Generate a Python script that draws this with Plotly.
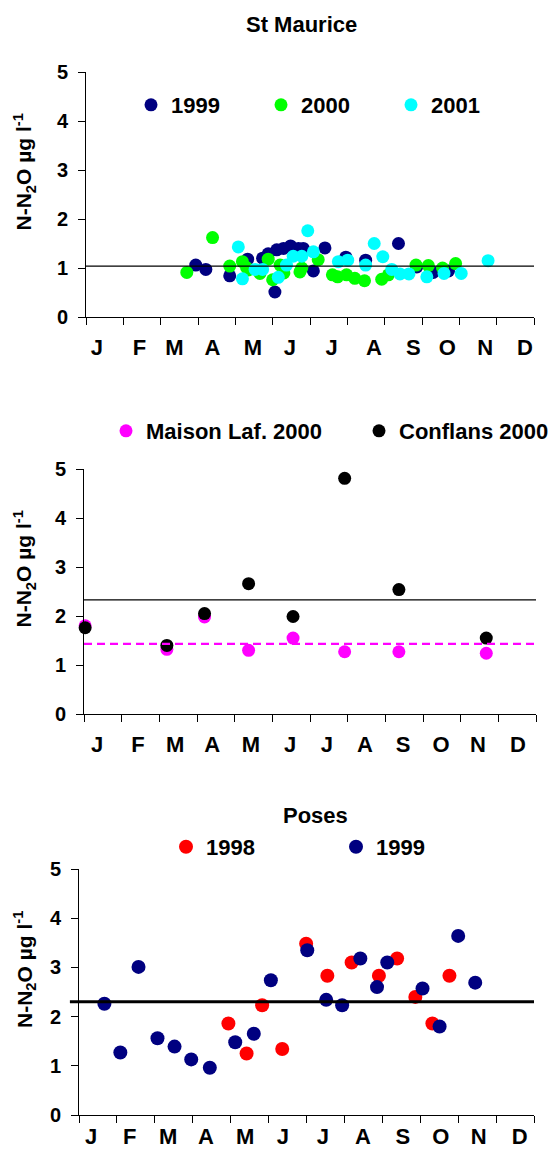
import plotly.graph_objects as go

W, H = 553, 1149
FONT = "Liberation Sans, Arial, sans-serif"

months = ["J", "F", "M", "A", "M", "J", "J", "A", "S", "O", "N", "D"]

# ---------------- St Maurice ----------------
sm1999_x = [2.94, 3.21, 3.85, 4.33, 4.73, 4.88, 5.06, 5.11, 5.29, 5.48, 5.69, 5.82,
            6.09, 6.40, 6.96, 7.49, 8.37, 8.86, 9.30, 9.53, 9.71]
sm1999_y = [1.06, 0.97, 0.84, 1.18, 1.20, 1.29, 0.51, 1.37, 1.40, 1.45, 1.40, 1.40,
            0.94, 1.41, 1.22, 1.16, 1.50, 1.02, 0.91, 0.96, 0.94]
sm2000_x = [2.70, 3.39, 3.85, 4.19, 4.30, 4.35, 4.66, 4.88, 5.00, 5.20, 5.30, 5.73,
            5.78, 6.22, 6.60, 6.74, 6.98, 7.20, 7.46, 7.92, 8.10, 8.84, 9.17, 9.55, 9.90]
sm2000_y = [0.91, 1.62, 1.04, 1.13, 1.01, 0.96, 0.89, 1.18, 0.76, 1.06, 0.90, 0.92,
            1.00, 1.17, 0.86, 0.82, 0.86, 0.79, 0.74, 0.77, 0.86, 1.06, 1.05, 1.00, 1.09]
sm2001_x = [4.08, 4.19, 4.53, 4.73, 5.15, 5.37, 5.55, 5.78, 5.94, 6.09, 6.76, 7.01,
            7.49, 7.72, 7.95, 8.19, 8.41, 8.65, 9.13, 9.59, 10.05, 10.77]
sm2001_y = [1.43, 0.78, 0.97, 0.97, 0.81, 1.06, 1.24, 1.24, 1.76, 1.33, 1.13, 1.16,
            1.06, 1.50, 1.23, 0.97, 0.88, 0.88, 0.82, 0.89, 0.89, 1.15]
sm_mean = 1.04

# ---------------- Maison Laf. / Conflans 2000 ----------------
mc_x = [0.03, 2.20, 3.20, 4.37, 5.55, 6.92, 8.36, 10.68]
maison_y = [1.80, 1.32, 1.98, 1.30, 1.55, 1.27, 1.27, 1.24]
conflans_y = [1.76, 1.40, 2.05, 2.66, 1.99, 4.81, 2.54, 1.55]
maison_mean = 1.43
conflans_mean = 2.33

# ---------------- Poses ----------------
p1998_x = [3.94, 4.42, 4.83, 5.36, 5.99, 6.55, 7.19, 7.91, 8.39, 8.87, 9.32, 9.77]
p1998_y = [1.86, 1.25, 2.23, 1.34, 3.48, 2.83, 3.10, 2.83, 3.18, 2.40, 1.86, 2.83]
p1999_x = [0.67, 1.09, 1.57, 2.07, 2.52, 2.96, 3.45, 4.12, 4.61, 5.06, 6.02, 6.52,
           6.94, 7.42, 7.86, 8.13, 9.06, 9.51, 10.00, 10.45]
p1999_y = [2.26, 1.27, 3.01, 1.56, 1.39, 1.13, 0.96, 1.48, 1.65, 2.74, 3.35, 2.34,
           2.23, 3.18, 2.60, 3.10, 2.57, 1.80, 3.64, 2.69]
poses_mean = 2.30

# ---------------- layout helpers ----------------
panels = {
    1: dict(x0=86, x1=534, y0=72, y1=317, standoff=11),
    2: dict(x0=84, x1=536, y0=469, y1=714, standoff=11),
    3: dict(x0=79, x1=534, y0=869, y1=1115, standoff=2),
}
month_label_pos = {
    1: [0.29, 1.43, 2.37, 3.39, 4.47, 5.46, 6.58, 7.71, 8.77, 9.68, 10.69, 11.76],
    2: [0.35, 1.43, 2.42, 3.40, 4.43, 5.47, 6.45, 7.46, 8.47, 9.48, 10.46, 11.52],
    3: [0.32, 1.34, 2.35, 3.35, 4.38, 5.38, 6.43, 7.49, 8.54, 9.54, 10.54, 11.62],
}


def px(x):
    return x / W


def py(y):
    return 1 - y / H


fig = go.Figure()
legfont = dict(family=FONT, size=22, weight="bold", color="black")
legends = {}


def add(xs, ys, name, color, axis, leg, lx, ly, size=13, clip=True):
    fig.add_trace(go.Scatter(
        x=xs, y=ys, mode="markers", name=name, showlegend=True,
        marker=dict(color=color, size=size, line=dict(width=0)),
        xaxis="x" + ("" if axis == 1 else str(axis)),
        yaxis="y" + ("" if axis == 1 else str(axis)),
        legend=leg, cliponaxis=clip,
    ))
    legends[leg] = dict(orientation="h", x=px(lx), y=py(ly), xanchor="left",
                        yanchor="middle", font=legfont, visible=True,
                        bgcolor="rgba(0,0,0,0)", borderwidth=0)


add(sm1999_x, sm1999_y, "1999", "#000080", 1, "legend", 131, 105)
add(sm2000_x, sm2000_y, "2000", "#00FF00", 1, "legend2", 261, 105)
add(sm2001_x, sm2001_y, "2001", "#00FFFF", 1, "legend3", 391, 105)

add(mc_x, maison_y, "Maison Laf. 2000", "#FF00FF", 2, "legend4", 106, 431, clip=False)
add(mc_x, conflans_y, "Conflans 2000", "#000000", 2, "legend5", 359, 431, clip=False)

add(p1998_x, p1998_y, "1998", "#FF0000", 3, "legend6", 166, 847, size=14)
add(p1999_x, p1999_y, "1999", "#000080", 3, "legend7", 336, 847, size=14)

layout = dict(
    width=W, height=H, margin=dict(l=0, r=0, t=0, b=0, autoexpand=False),
    paper_bgcolor="white", plot_bgcolor="white",
    font=dict(family=FONT, color="black", size=20),
    annotations=[], shapes=[], showlegend=True,
)
layout.update(legends)

for i, p in panels.items():
    s = "" if i == 1 else str(i)
    layout["xaxis" + s] = dict(
        domain=[px(p["x0"]), px(p["x1"])], range=[0, 12],
        anchor="y" + s, showgrid=False, zeroline=False,
        showline=True, linecolor="black", linewidth=1,
        tickmode="array", tickvals=month_label_pos[i], ticktext=months,
        ticks="", ticklabelstandoff=p["standoff"],
        tickfont=dict(family=FONT, size=22, weight="bold", color="black"),
        minor=dict(tickmode="linear", tick0=0, dtick=1, ticks="outside",
                   ticklen=7, tickwidth=1, tickcolor="black", showgrid=False),
        fixedrange=True,
    )
    layout["yaxis" + s] = dict(
        domain=[py(p["y1"]), py(p["y0"])], range=[0, 5],
        anchor="x" + s, showgrid=False, zeroline=False,
        showline=True, linecolor="black", linewidth=1,
        tickmode="linear", tick0=0, dtick=1,
        ticks="outside", ticklen=7, tickwidth=1, tickcolor="black",
        ticklabelstandoff=6,
        tickfont=dict(family=FONT, size=20, weight="bold", color="black"),
        fixedrange=True,
    )
    # y-axis title
    layout["annotations"].append(dict(
        text="N-N<sub>2</sub>O µg l<sup>-1</sup>", textangle=-90,
        x=px(24), y=py((p["y0"] + p["y1"]) / 2 - 22),
        xref="paper", yref="paper", showarrow=False,
        xanchor="center", yanchor="middle",
        font=dict(family=FONT, size=21, weight="bold", color="black"),
    ))

# titles
for txt, cx, cy in [("St Maurice", 301, 25), ("Poses", 315.5, 815)]:
    layout["annotations"].append(dict(
        text=txt, x=px(cx), y=py(cy), xref="paper", yref="paper",
        showarrow=False, xanchor="center", yanchor="middle",
        font=dict(family=FONT, size=22, weight="bold", color="black"),
    ))

# mean lines
layout["shapes"] += [
    dict(type="line", xref="x domain", yref="y", x0=0, x1=1, y0=sm_mean, y1=sm_mean,
         line=dict(color="black", width=1.3)),
    dict(type="line", xref="x2 domain", yref="y2", x0=0, x1=1,
         y0=conflans_mean, y1=conflans_mean, line=dict(color="black", width=1.3)),
    dict(type="line", xref="x2 domain", yref="y2", x0=0, x1=1,
         y0=maison_mean, y1=maison_mean,
         line=dict(color="#FF00FF", width=2.2, dash="8px,5px")),
    dict(type="line", xref="x3 domain", yref="y3", x0=-0.02, x1=1,
         y0=poses_mean, y1=poses_mean, line=dict(color="black", width=3)),
]

fig.update_layout(**layout)
fig.write_html("out.html")
